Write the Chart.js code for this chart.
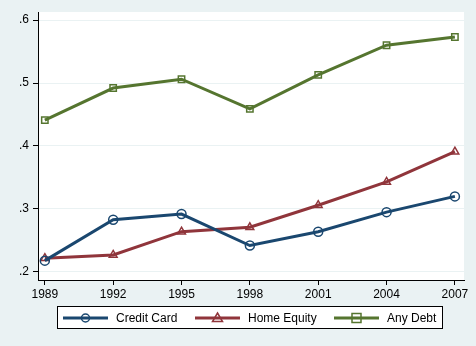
<!DOCTYPE html>
<html>
<head>
<meta charset="utf-8">
<script src="https://cdn.jsdelivr.net/npm/chart.js@4/dist/chart.umd.min.js"></script>
<style>
  html, body { margin: 0; padding: 0; background: #EAF2F3; }
  #wrap { width: 476px; height: 346px; }
</style>
</head>
<body>
<div id="wrap"><canvas id="c" width="476" height="346"></canvas></div>
<script>
const years = [1989, 1992, 1995, 1998, 2001, 2004, 2007];
const creditCard = [0.218, 0.283, 0.292, 0.242, 0.264, 0.295, 0.320];
const homeEquity = [0.222, 0.227, 0.264, 0.271, 0.306, 0.343, 0.391];
const anyDebt    = [0.441, 0.492, 0.506, 0.459, 0.513, 0.560, 0.573];
const yTicks = [0.2, 0.3, 0.4, 0.5, 0.6];
const seriesNames = ['Credit Card', 'Home Equity', 'Any Debt'];

const colors = ['#1A476F', '#90353B', '#55752F'];
const markers = ['circle', 'triangle', 'rect'];
const FONT = '"Liberation Sans", Arial, sans-serif';

function pts(vals) { return years.map((y, i) => ({ x: y, y: vals[i] })); }

const bgPlugin = {
  id: 'bg',
  beforeDraw(chart) {
    const ctx = chart.ctx, a = chart.chartArea;
    ctx.save();
    ctx.fillStyle = '#EAF2F3';
    ctx.fillRect(0, 0, chart.width, chart.height);
    ctx.fillStyle = '#FFFFFF';
    ctx.fillRect(a.left, a.top, a.right - a.left, a.bottom - a.top);
    ctx.restore();
  }
};

function drawMarker(ctx, type, x, y, color) {
  ctx.save();
  ctx.strokeStyle = color;
  ctx.lineWidth = 1.5;
  ctx.beginPath();
  if (type === 'circle') {
    ctx.arc(x, y, 4, 0, Math.PI * 2);
  } else if (type === 'triangle') {
    ctx.moveTo(x, y - 5); ctx.lineTo(x + 5, y + 3.5); ctx.lineTo(x - 5, y + 3.5); ctx.closePath();
  } else {
    ctx.rect(x - 4.5, y - 4.5, 9, 9);
  }
  ctx.stroke();
  ctx.restore();
}

const legendPlugin = {
  id: 'stataLegend',
  afterDraw(chart) {
    const ctx = chart.ctx;
    ctx.save();
    ctx.fillStyle = '#FFFFFF';
    ctx.fillRect(57.5, 306.5, 385, 22);
    ctx.strokeStyle = '#000000';
    ctx.lineWidth = 1;
    ctx.strokeRect(57.5, 306.5, 385, 22);
    const starts = [63, 195, 334];
    const yMid = 318;
    ctx.font = '12px ' + FONT;
    ctx.textBaseline = 'middle';
    ctx.fillStyle = '#000000';
    seriesNames.forEach((name, i) => {
      const x0 = starts[i];
      ctx.strokeStyle = colors[i];
      ctx.lineWidth = 3;
      ctx.beginPath();
      ctx.moveTo(x0, yMid); ctx.lineTo(x0 + 45, yMid);
      ctx.stroke();
      drawMarker(ctx, markers[i], x0 + 22.5, yMid, colors[i]);
      ctx.fillStyle = '#000000';
      ctx.fillText(name, x0 + 53, yMid + 0.5);
    });
    ctx.restore();
  }
};

const datasets = [creditCard, homeEquity, anyDebt].map((vals, i) => ({
  label: seriesNames[i],
  data: pts(vals),
  borderColor: colors[i],
  borderWidth: 3,
  backgroundColor: 'rgba(0,0,0,0)',
  pointStyle: markers[i],
  pointRadius: 4.5,
  pointBorderWidth: 1.5,
  pointBorderColor: colors[i],
  pointBackgroundColor: 'rgba(0,0,0,0)',
  tension: 0,
  clip: false
}));

new Chart(document.getElementById('c'), {
  type: 'line',
  data: { datasets },
  plugins: [bgPlugin, legendPlugin],
  options: {
    responsive: false,
    animation: false,
    devicePixelRatio: 1,
    layout: { padding: { left: 0, top: 12, right: 12, bottom: 46 } },
    plugins: { legend: { display: false }, tooltip: { enabled: false } },
    scales: {
      x: {
        type: 'linear',
        min: 1988.7,
        max: 2007.4,
        afterBuildTicks: s => { s.ticks = years.map(v => ({ value: v })); },
        afterFit: s => { s.height = 20; },
        ticks: {
          color: '#000', font: { family: FONT, size: 12 }, padding: 2,
          maxRotation: 0, autoSkip: false,
          callback: v => String(v)
        },
        grid: { drawOnChartArea: false, drawTicks: true, tickLength: 5, tickColor: '#000', tickWidth: 1 },
        border: { color: '#000', width: 1 }
      },
      y: {
        type: 'linear',
        min: 0.1873,
        max: 0.6127,
        afterBuildTicks: s => { s.ticks = yTicks.map(v => ({ value: v })); },
        afterFit: s => { s.width = 38; },
        ticks: {
          color: '#000', font: { family: FONT, size: 12 }, padding: 4,
          callback: v => '.' + Math.round(v * 10)
        },
        grid: { color: '#EAF2F3', lineWidth: 1, drawTicks: true, tickLength: 5, tickColor: '#000', tickWidth: 1 },
        border: { color: '#000', width: 1 }
      }
    }
  }
});
</script>
</body>
</html>
